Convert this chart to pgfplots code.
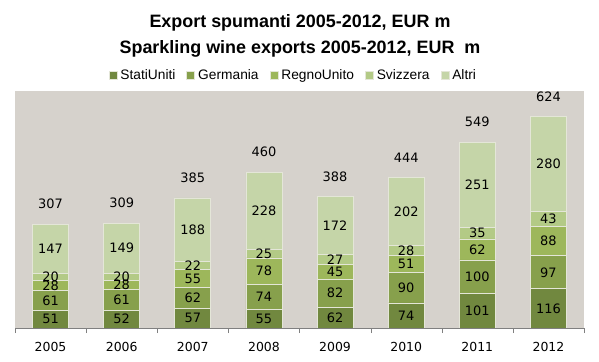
\documentclass[border=0pt]{standalone}
\usepackage{pgfplots}
\pgfplotsset{compat=1.18}
\usepackage{pgfplotstable}
\usepackage{fontspec}
\setmainfont{Liberation Sans}
\newfontfamily\dejavu{DejaVu Sans}
\definecolor{cUS}{HTML}{71883F}
\definecolor{cDE}{HTML}{87A04C}
\definecolor{cUK}{HTML}{9DB75B}
\definecolor{cCH}{HTML}{B3CA86}
\definecolor{cOT}{HTML}{C5D5A8}
\definecolor{bgc}{HTML}{D6D2CC}
\definecolor{sep}{HTML}{E4E6D8}
\pgfplotstableread{
x a b c d e tot
0 51 61 28 20 147 307
1 52 61 28 20 149 309
2 57 62 55 22 188 385
3 55 74 78 25 228 460
4 62 82 45 27 172 388
5 74 90 51 28 202 444
6 101 100 62 35 251 549
7 116 97 88 43 280 624
}\datatable
\begin{document}
\begin{tikzpicture}
\useasboundingbox (0,0) rectangle (599bp,362bp);
\pgfplotsset{common/.style={
  scale only axis, width=569bp, height=237bp,
  at={(15bp,34bp)}, anchor=south west,
  xmin=-0.5, xmax=7.5, ymin=0, ymax=700}}
\begin{axis}[common,
  ybar stacked, bar width=36bp,
  axis background/.style={fill=bgc},
  axis x line=bottom, axis y line=none,
  x axis line style={-, draw=gray},
  xtick={0,...,7},
  xticklabels={2005,2006,2007,2008,2009,2010,2011,2012},
  major tick length=0pt,
  minor xtick={-0.5,0.5,...,7.5},
  minor tick length=5bp,
  tick align=outside,
  minor tick style={draw=gray},
  xticklabel style={font=\dejavu\fontsize{12.5}{14}\selectfont, anchor=base, yshift=-23.5bp},
  legend columns=5,
  legend style={draw=none, fill=none, at={(0.49,1.0675)}, anchor=center,
    font=\fontsize{13.8}{15}\selectfont,
    /tikz/every even column/.append style={column sep=8bp},
    nodes={inner xsep=3bp, inner ysep=1bp}},
  legend image code/.code={\fill[#1] (0bp,-4bp) rectangle (8bp,4bp);},
  every axis plot/.append style={draw=sep, line width=0.8pt},
]
\addplot[fill=cUS] table[x=x, y=a] {\datatable};
\addplot[fill=cDE] table[x=x, y=b] {\datatable};
\addplot[fill=cUK] table[x=x, y=c] {\datatable};
\addplot[fill=cCH] table[x=x, y=d] {\datatable};
\addplot[fill=cOT] table[x=x, y=e] {\datatable};
\legend{StatiUniti,Germania,RegnoUnito,Svizzera,Altri}
\end{axis}
\begin{axis}[common, hide axis,
  point meta=explicit,
  /pgf/number format/assume math mode=true,
  nodes near coords,
  every node near coord/.append style={font=\dejavu\fontsize{13}{14}\selectfont, anchor=center, text=black},
]
\addplot[draw=none, mark=none] table[x=x, y expr=\thisrow{a}/2, meta=a] {\datatable};
\addplot[draw=none, mark=none] table[x=x, y expr=\thisrow{a}+\thisrow{b}/2, meta=b] {\datatable};
\addplot[draw=none, mark=none] table[x=x, y expr=\thisrow{a}+\thisrow{b}+\thisrow{c}/2, meta=c] {\datatable};
\addplot[draw=none, mark=none] table[x=x, y expr=\thisrow{a}+\thisrow{b}+\thisrow{c}+\thisrow{d}/2, meta=d] {\datatable};
\addplot[draw=none, mark=none] table[x=x, y expr=\thisrow{a}+\thisrow{b}+\thisrow{c}+\thisrow{d}+\thisrow{e}/2, meta=e] {\datatable};
\addplot[draw=none, mark=none, every node near coord/.append style={yshift=20bp}] table[x=x, y expr=\thisrow{a}+\thisrow{b}+\thisrow{c}+\thisrow{d}+\thisrow{e}, meta=tot] {\datatable};
\end{axis}
\node[anchor=base, font=\bfseries\fontsize{18}{20}\selectfont] at (300bp,334.7bp) {Export spumanti 2005-2012, EUR m};
\node[anchor=base, font=\bfseries\fontsize{18}{20}\selectfont] at (300bp,308bp) {Sparkling wine exports 2005-2012, EUR\ \ m};
\end{tikzpicture}
\end{document}
